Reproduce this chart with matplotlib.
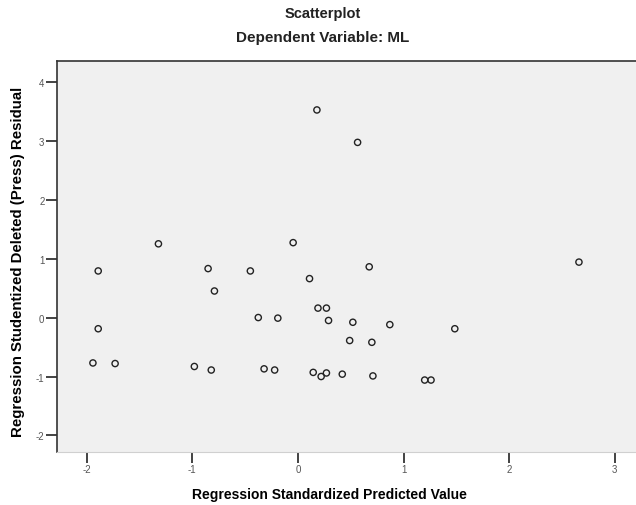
import matplotlib
matplotlib.use("Agg")
import matplotlib.pyplot as plt

# ================== DATA ==================
pred = [0.18, 0.565, -1.32, -0.045, -1.89, -0.85, -0.45, 0.11, 0.675, 2.66,
        -0.79, 0.19, 0.27, -1.89, -0.375, -0.19, 0.29, 0.52, 0.87, 1.485,
        0.49, 0.70, -1.94, -1.73, -0.98, -0.82, -0.32, -0.22, 0.145, 0.22,
        0.27, 0.42, 0.71, 1.20, 1.26]
resid = [3.52, 2.97, 1.25, 1.27, 0.79, 0.83, 0.79, 0.66, 0.86, 0.94,
         0.45, 0.16, 0.16, -0.19, 0.00, -0.01, -0.05, -0.08, -0.12, -0.19,
         -0.39, -0.42, -0.77, -0.78, -0.83, -0.89, -0.87, -0.89, -0.93, -1.00,
         -0.94, -0.96, -0.99, -1.06, -1.06]

x_ticks = [-2, -1, 0, 1, 2, 3]
y_ticks = [-2, -1, 0, 1, 2, 3, 4]

W, H = 636, 506
plt.rcParams["font.family"] = ["Liberation Sans", "DejaVu Sans"]

fig = plt.figure(figsize=(W / 100, H / 100), dpi=100)
fig.patch.set_facecolor("white")
ax = fig.add_axes([57 / W, (H - 453) / H, (W - 57) / W, (453 - 62) / H])
ax.set_facecolor("#f0f0f0")

ax.scatter(pred, resid, s=20, facecolors="none", edgecolors="#222222",
           linewidths=1.0, zorder=3)

ax.set_xlim(-2.28, 3.20)
ax.set_ylim(-2.28, 4.35)

ax.set_xticks(x_ticks)
ax.set_xticklabels([str(t) for t in x_ticks])
ax.set_yticks(y_ticks)
ax.set_yticklabels([str(t) for t in y_ticks])
ax.tick_params(axis="both", direction="out", length=8, width=1.2,
               color="#222222", labelsize=7, labelcolor="#555555", pad=1)

for side in ["top", "left"]:
    ax.spines[side].set_color("#333333")
    ax.spines[side].set_linewidth(1.2)
ax.spines["bottom"].set_color("#d0d0d0")
ax.spines["right"].set_visible(False)

ax.set_xlabel("Regression Standardized Predicted Value", fontsize=10,
              fontweight="bold", va="center")
ax.xaxis.set_label_coords(0.47, -(495 - 453) / 391)
ax.set_ylabel("Regression Studentized Deleted (Press) Residual", fontsize=10.8,
              fontweight="bold", va="center")
ax.yaxis.set_label_coords(-(57 - 18) / 579, 0.49)

fig.text(323 / W, 1 - 14 / H, "Scatterplot", ha="center", va="center",
         fontsize=10.5, fontweight="bold", color="#222222")
fig.text(323 / W, 1 - 38 / H, "Dependent Variable: ML", ha="center",
         va="center", fontsize=11, fontweight="bold", color="#222222")

fig.savefig("out.png", dpi=100)
